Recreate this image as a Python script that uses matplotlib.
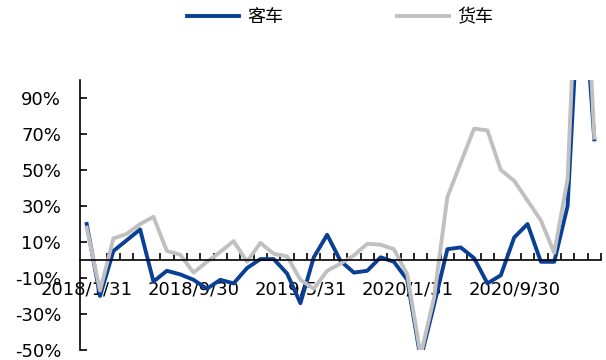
import matplotlib
matplotlib.use('Agg')
import matplotlib.pyplot as plt
from matplotlib.ticker import FixedLocator, FuncFormatter

plt.rcParams['font.family'] = ['DejaVu Sans', 'Noto Sans CJK SC']

# monthly YoY growth, 2018/1 .. 2021/3
tick_labels = ['2018/1/31', '2018/9/30', '2019/5/31', '2020/1/31', '2020/9/30']
label_step = 8

bus = [20, -20, 5, 11, 17, -12, -6, -8, -11, -16,
       -11, -13, -4.5, 0.5, 0.5, -7.5, -24, 1.5, 14, -0.5,
       -7, -6, 1.5, -1, -11, -55, -25, 6, 7, 1,
       -13, -8.5, 12.5, 20, -1, -1, 30, 170, 67]
truck = [18, -17, 12, 14.5, 20, 24, 5, 3, -7, -1,
         4.5, 10.5, -1, 9.5, 3.5, 2, -11, -16, -6, -2,
         2.5, 9, 8.5, 6, -8, -53, -21, 35, 54, 73,
         72, 50, 44, 33, 22, 4, 45, 220, 68]

yticks = [-50, -30, -10, 10, 30, 50, 70, 90]

blue = '#0A3F96'
grey = '#C0C0C0'

fig = plt.figure(figsize=(6.06, 3.6), dpi=100)
ax = fig.add_axes([80/606, 10/360, 521/606, 270/360])

n = len(bus)
xs = list(range(n))
ax.plot(xs, bus, color=blue, lw=2.8, solid_joinstyle='round', label='客车')
ax.plot(xs, truck, color=grey, lw=2.8, solid_joinstyle='round', label='货车')

ax.set_xlim(-0.5, n - 0.5)
ax.set_ylim(-50, 100)

# axes look: left spine + x-axis sitting on zero
for s in ['top', 'right']:
    ax.spines[s].set_visible(False)
ax.spines['bottom'].set_position(('data', 0))
ax.spines['left'].set_linewidth(1.2)
ax.spines['bottom'].set_linewidth(1.2)

ax.set_yticks(yticks)
ax.yaxis.set_major_formatter(FuncFormatter(lambda v, p: '%d%%' % v))
ax.tick_params(axis='y', direction='in', length=5, width=1.2, labelsize=13, pad=13.5)

ax.xaxis.set_major_locator(FixedLocator([i * label_step for i in range(len(tick_labels))]))
ax.set_xticklabels(tick_labels)
ax.xaxis.set_minor_locator(FixedLocator([i - 0.5 for i in range(1, n + 1)]))
ax.tick_params(axis='x', which='major', length=0, labelsize=13, pad=14.5)
ax.tick_params(axis='x', which='minor', direction='in', length=5, width=1.2)

fig.legend(loc='center', bbox_to_anchor=(340/606, 1 - 17/360), ncol=2, frameon=False,
           fontsize=13, handlelength=2.9, handletextpad=0.45, columnspacing=6.3)

fig.savefig('out.png', dpi=100)
